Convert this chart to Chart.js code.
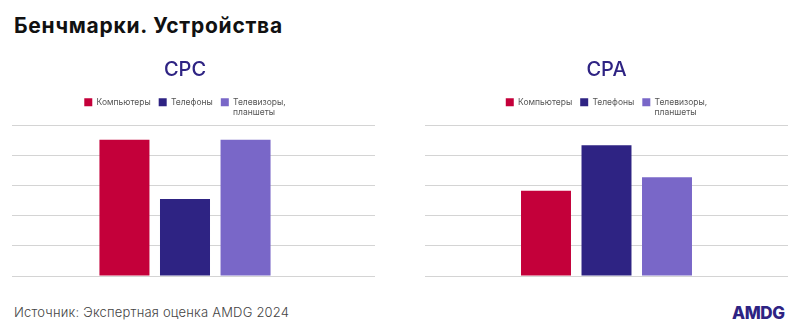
<!DOCTYPE html>
<html lang="ru">
<head>
<meta charset="utf-8">
<title>Бенчмарки. Устройства</title>
<script src="https://cdn.jsdelivr.net/npm/chart.js@4.4.1/dist/chart.umd.min.js"></script>
<style>
    html, body { margin: 0; padding: 0; background: #fff; }
    body { width: 800px; height: 334px; position: relative; overflow: hidden; font-family: Inter, "Noto Sans", sans-serif; }
    h1 { position: absolute; left: 14px; top: 14px; margin: 0; font-size: 21px; line-height: 24px; font-weight: 700; color: #111; letter-spacing: 0.75px; }
    .box { position: absolute; top: 50px; width: 400px; height: 240px; }
    .source { position: absolute; left: 14px; top: 304px; font-size: 13px; font-weight: 300; color: #444; letter-spacing: 0.2px; }
    .logo { position: absolute; left: 732px; top: 303px; font-size: 17px; font-weight: 800; color: #2E2383; letter-spacing: -0.4px; }
</style>
</head>
<body>
<h1>Бенчмарки. Устройства</h1>
<div class="box" style="left:0"><canvas id="cpc-canvas"></canvas></div>
<div class="box" style="left:400px"><canvas id="cpa-canvas"></canvas></div>
<div class="source">Источник: Экспертная оценка AMDG 2024</div>
<div class="logo">AMDG</div>

<script>
var tvLabel = ['Телевизоры,', 'планшеты'];
// legend measures labels as strings, so only count the first line's width
tvLabel.toString = function () { return this[0]; };

var devices = ['Компьютеры', 'Телефоны', tvLabel];
var deviceColors = ['#C4003A', '#2E2383', '#7967C8'];
var cpcValues = [4.53, 2.56, 4.53];
var cpaValues = [2.83, 4.34, 3.28];

Chart.defaults.font.family = 'Inter, "Noto Sans", sans-serif';
Chart.defaults.animation = false;

// room under the legend for the two-line label
var legendGap = {
    id: 'legendGap',
    beforeInit: function (chart) {
        var fit = chart.legend.fit;
        chart.legend.fit = function () {
            fit.call(this);
            this.height += 9;
        };
    }
};

// draws the y grid lines a little further to the right than the plot area
var extendGrid = {
    id: 'extendGrid',
    beforeDatasetsDraw: function (chart, args, opts) {
        if (!opts.extra) return;
        var ctx = chart.ctx, area = chart.chartArea, y = chart.scales.y;
        ctx.save();
        ctx.strokeStyle = '#d4d4d4';
        ctx.lineWidth = 1;
        y.ticks.forEach(function (t) {
            var py = Math.round(y.getPixelForValue(t.value) - 0.5) + 0.5;
            ctx.beginPath();
            ctx.moveTo(area.right, py);
            ctx.lineTo(area.right + opts.extra, py);
            ctx.stroke();
        });
        ctx.restore();
    }
};

function barConfig(title, values, padding, catPercent, extra) {
    return {
        type: 'bar',
        data: {
            labels: [''],
            datasets: devices.map(function (name, i) {
                return {
                    label: name,
                    data: [values[i]],
                    backgroundColor: deviceColors[i],
                    categoryPercentage: catPercent,
                    barPercentage: 0.826
                };
            })
        },
        options: {
            responsive: true,
            maintainAspectRatio: false,
            layout: { padding: padding },
            plugins: {
                title: {
                    display: true,
                    text: title,
                    color: '#2E2383',
                    font: { size: 20, weight: '500' },
                    padding: { top: 8, bottom: 8 }
                },
                legend: {
                    labels: {
                        boxWidth: 8,
                        boxHeight: 8,
                        color: '#555',
                        font: { size: 8.5 },
                        padding: 8
                    }
                },
                tooltip: { enabled: false },
                extendGrid: { extra: extra }
            },
            scales: {
                x: { display: false },
                y: {
                    min: 0,
                    max: 5,
                    ticks: { display: false, stepSize: 1 },
                    border: { display: false },
                    grid: { color: '#d4d4d4', drawTicks: false }
                }
            }
        },
        plugins: [legendGap, extendGrid]
    };
}

new Chart(document.getElementById('cpc-canvas').getContext('2d'),
    barConfig('CPC', cpcValues, { left: 12, right: 42, bottom: 14 }, 0.525, 17));
new Chart(document.getElementById('cpa-canvas').getContext('2d'),
    barConfig('CPA', cpaValues, { left: 25, right: 12, bottom: 14 }, 0.5, 0));
</script>
</body>
</html>
